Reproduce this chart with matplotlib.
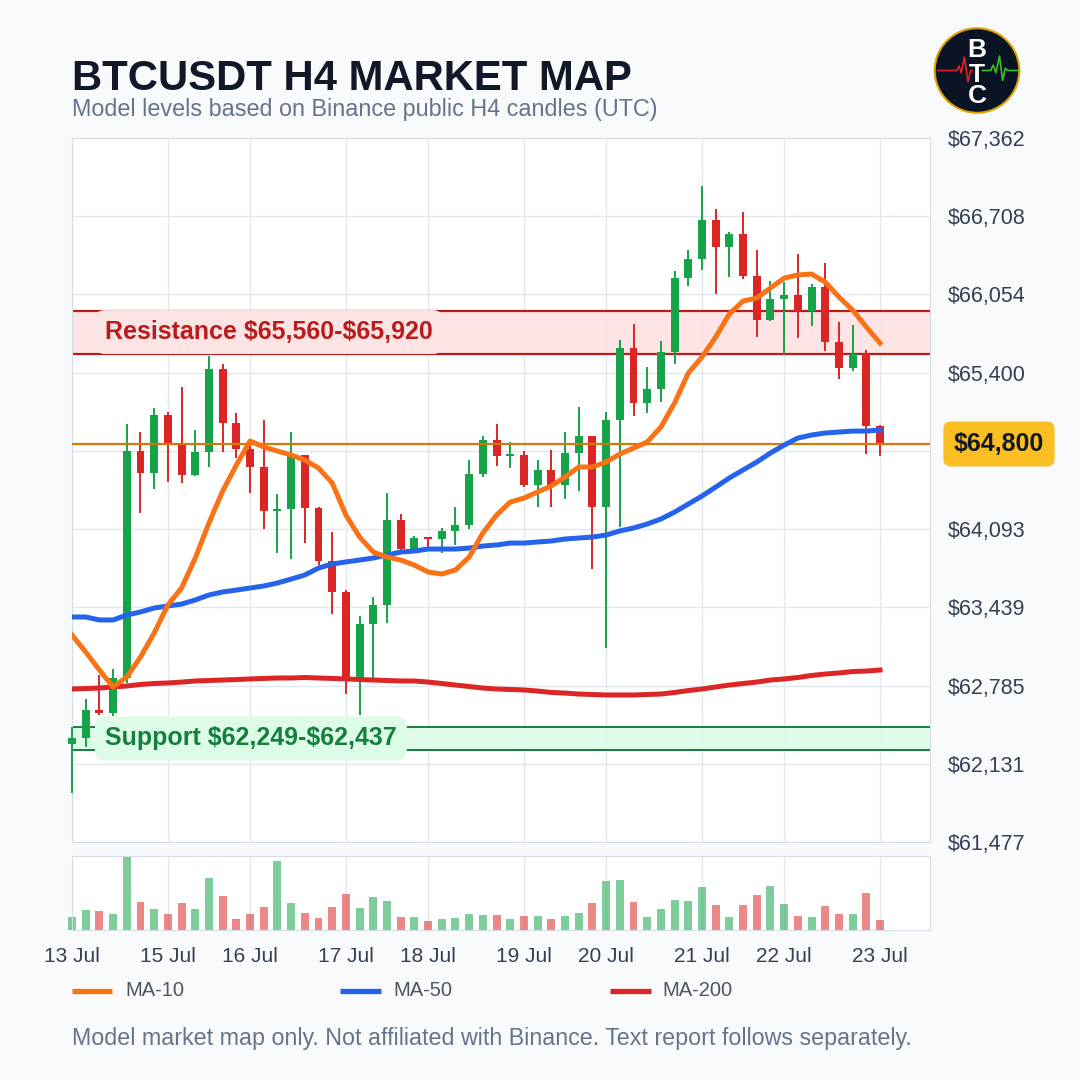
import numpy as np
import matplotlib
matplotlib.use("Agg")
import matplotlib.pyplot as plt
from matplotlib.patches import Circle
from matplotlib.lines import Line2D

plt.rcParams['font.family'] = ['Liberation Sans', 'DejaVu Sans']

# ---------------- Daten (H4-Kerzen) ----------------
opens = [62296, 62346, 62580, 62555, 62848, 64745, 64562, 65046, 64796, 64545,
         64737, 65431, 64979, 64762, 64612, 64244, 64260, 64712, 64269, 63826,
         63567, 62848, 63299, 63458, 64169, 63926, 64018, 64010, 64077, 64127,
         64553, 64837, 64704, 64712, 64461, 64587, 64461, 64729, 64871, 64277,
         65005, 65606, 65147, 65264, 65573, 66191, 66350, 66676, 66451, 66559,
         66208, 65840, 66016, 66049, 65916, 66116, 65656, 65439, 65556, 64954]
closes = [62346, 62580, 62555, 62848, 64745, 64562, 65046, 64796, 64545, 64737,
          65431, 64979, 64762, 64612, 64244, 64260, 64712, 64269, 63826, 63567,
          62848, 63299, 63458, 64169, 63926, 64018, 64010, 64077, 64127, 64553,
          64837, 64704, 64712, 64461, 64587, 64461, 64729, 64871, 64277, 65005,
          65606, 65147, 65264, 65573, 66191, 66350, 66676, 66451, 66559, 66208,
          65840, 66016, 66049, 65916, 66116, 65656, 65439, 65556, 64954, 64800]
highs = [62438, 62672, 62873, 62923, 64971, 64904, 65105, 65071, 65280, 64921,
         65540, 65473, 65063, 64837, 65005, 64386, 64904, 64715, 64277, 64068,
         63583, 63366, 63525, 64394, 64219, 64035, 64026, 64102, 64277, 64670,
         64871, 64971, 64821, 64745, 64670, 64754, 64904, 65113, 64871, 65071,
         65673, 65807, 65448, 65665, 66250, 66426, 66961, 66768, 66576, 66743,
         66426, 66166, 66158, 66392, 66141, 66317, 65824, 65799, 65590, 64963]
lows = [61887, 62271, 62539, 62530, 62806, 64227, 64428, 64486, 64478, 64540,
        64612, 64737, 64687, 64394, 64093, 63893, 63843, 63976, 63792, 63383,
        62714, 62539, 62831, 63308, 63920, 63920, 63943, 63893, 63960, 64093,
        64528, 64620, 64603, 64444, 64277, 64277, 64344, 64411, 63759, 63099,
        64110, 65038, 65063, 65155, 65473, 66125, 66258, 66058, 66200, 66183,
        65698, 65835, 65556, 65690, 65790, 65581, 65347, 65414, 64720, 64704]
volumes = [1270, 1970, 1870, 1570, 7470, 2870, 2170, 1570, 2770, 2070,
           5270, 3470, 1070, 1570, 2370, 6970, 2770, 1670, 1170, 2370,
           3670, 2270, 3370, 2970, 1270, 1270, 870, 1070, 1170, 1570,
           1470, 1470, 1070, 1370, 1370, 1070, 1370, 1670, 2770, 4970,
           5070, 2870, 1270, 2070, 3070, 2970, 4370, 2570, 1270, 2570,
           3570, 4470, 2670, 1370, 1270, 2470, 1570, 1570, 3770, 970]

ma10 = [63207, 63065, 62915, 62773, 62856, 63023, 63224, 63458, 63600, 63851,
        64144, 64411, 64628, 64829, 64779, 64745, 64712, 64670, 64603, 64478,
        64210, 64026, 63901, 63859, 63834, 63792, 63734, 63717, 63751, 63859,
        64060, 64210, 64319, 64352, 64403, 64453, 64528, 64612, 64612, 64653,
        64720, 64770, 64821, 64946, 65147, 65397, 65531, 65698, 65891, 65999,
        66024, 66108, 66191, 66217, 66225, 66158, 66033, 65924, 65782, 65648]
ma50 = [63358, 63358, 63333, 63333, 63374, 63400, 63433, 63450, 63466, 63500,
        63542, 63567, 63583, 63600, 63617, 63642, 63675, 63709, 63767, 63801,
        63818, 63834, 63851, 63876, 63901, 63909, 63926, 63926, 63926, 63934,
        63951, 63960, 63976, 63976, 63985, 63993, 64010, 64018, 64026, 64043,
        64077, 64102, 64135, 64177, 64235, 64302, 64369, 64444, 64520, 64587,
        64653, 64729, 64795, 64854, 64879, 64896, 64904, 64912, 64912, 64921]
ma200 = [62756, 62760, 62764, 62773, 62781, 62794, 62802, 62806, 62814, 62823,
         62827, 62831, 62835, 62840, 62844, 62848, 62848, 62852, 62848, 62844,
         62840, 62835, 62831, 62827, 62823, 62823, 62814, 62802, 62789, 62777,
         62764, 62756, 62752, 62748, 62739, 62727, 62722, 62714, 62710, 62706,
         62706, 62706, 62710, 62714, 62727, 62743, 62756, 62773, 62789, 62802,
         62814, 62831, 62840, 62852, 62869, 62881, 62890, 62902, 62906, 62915]

tick_idx = [0, 7, 13, 20, 26, 33, 39, 46, 52, 59]
tick_labels = ['13 Jul', '15 Jul', '16 Jul', '17 Jul', '18 Jul',
               '19 Jul', '20 Jul', '21 Jul', '22 Jul', '23 Jul']
price_ticks = [61477, 62131, 62785, 63439, 64093, 64747, 65400, 66054, 66708, 67362]
# das Label bei 64,747 liegt im Original unter dem Kurs-Badge
price_labels = ['$61,477', '$62,131', '$62,785', '$63,439', '$64,093', '',
                '$65,400', '$66,054', '$66,708', '$67,362']

resistance = (65560, 65920)
support = (62249, 62437)
last_price = 64800

# Farben
GREEN = '#16a34a'
RED = '#dc2626'
GRID = '#e2e8f0'
SPINE = '#d5dde8'

W = 1080.0


def box(l, t, r, b):
    # Pixelkoordinaten -> Figure-Anteile
    return [l / W, 1 - b / W, (r - l) / W, (b - t) / W]


fig = plt.figure(figsize=(10.8, 10.8), dpi=100)
fig.patch.set_facecolor('#f8fafc')

ax = fig.add_axes(box(72, 138, 930, 842))
axv = fig.add_axes(box(72, 856, 930, 930), sharex=ax)

x = np.arange(len(closes))
o = np.array(opens)
c = np.array(closes)
cols = [GREEN if cc >= oo else RED for oo, cc in zip(opens, closes)]

# ---------------- Preis-Panel ----------------
ax.set_facecolor('white')
ax.set_xlim(0, 62.65)
ax.set_ylim(price_ticks[0], price_ticks[-1])
ax.set_yticks(price_ticks)
ax.set_yticklabels([s.replace('$', '\\$') for s in price_labels])
ax.set_xticks(tick_idx)
ax.yaxis.tick_right()
ax.tick_params(axis='y', length=0, pad=13, labelsize=15.5, labelcolor='#334155')
ax.tick_params(axis='x', length=0, labelbottom=False)
ax.grid(color=GRID, lw=1, zorder=0)
ax.set_axisbelow(True)
for s in ax.spines.values():
    s.set_color(SPINE)

# Zonen
ax.axhspan(resistance[0], resistance[1], color='#fee2e2', alpha=0.9, lw=0, zorder=1)
for lvl in resistance:
    ax.axhline(lvl, color='#b91c1c', lw=1.6, zorder=1.5)
ax.axhspan(support[0], support[1], color='#dcfce7', alpha=0.9, lw=0, zorder=1)
for lvl in support:
    ax.axhline(lvl, color='#15803d', lw=1.4, zorder=1.5)

# Kerzen
body_lo = np.minimum(o, c)
body_h = np.maximum(np.abs(c - o), 15)
ax.vlines(x, lows, highs, colors=cols, lw=1.4, zorder=3, clip_on=False)
ax.bar(x, body_h, bottom=body_lo, width=0.58, color=cols, zorder=3.1, clip_on=False)

# aktueller Kurs
ax.axhline(last_price, color='#d97706', lw=1.6, zorder=3.5)

# gleitende Durchschnitte
ax.plot(x, ma200, color='#dc2626', lw=3.6, zorder=4)
ax.plot(x, ma50, color='#2563eb', lw=3.6, zorder=4.1)
ax.plot(x, ma10, color='#f97316', lw=3.6, zorder=4.2)

ax.text(2.41, sum(resistance) / 2, 'Resistance \\$65,560-\\$65,920', fontsize=18,
        weight='bold', color='#b91c1c', va='center', ha='left', zorder=6,
        bbox=dict(boxstyle='round,pad=0.4,rounding_size=0.4', fc='#fde4e4', ec='none'))
ax.text(2.41, sum(support) / 2, 'Support \\$62,249-\\$62,437', fontsize=18,
        weight='bold', color='#15803d', va='center', ha='left', zorder=6,
        bbox=dict(boxstyle='round,pad=0.4,rounding_size=0.4', fc='#dcfce7', ec='none'))

# ---------------- Volumen-Panel ----------------
axv.set_facecolor('white')
axv.bar(x, volumes, width=0.58, color=cols, alpha=0.55, zorder=2, clip_on=False)
axv.set_ylim(0, max(volumes))
axv.set_yticks([])
axv.set_xticks(tick_idx)
axv.set_xticklabels(tick_labels)
axv.tick_params(axis='x', length=0, pad=12, labelsize=15, labelcolor='#334155')
axv.grid(axis='x', color=GRID, lw=1, zorder=0)
for s in axv.spines.values():
    s.set_color(SPINE)

# Kurs-Badge
fig.text(999 / W, 1 - 444 / W, '\\$64,800', ha='center', va='center', fontsize=18,
         weight='bold', color='#111827',
         bbox=dict(boxstyle='round,pad=0.42,rounding_size=0.3', fc='#fbbf24', ec='none'))

# Titel
fig.text(72 / W, 1 - 90 / W, 'BTCUSDT H4 MARKET MAP', fontsize=30.2, weight='bold',
         color='#111827', va='baseline')
fig.text(72 / W, 1 - 116 / W, 'Model levels based on Binance public H4 candles (UTC)',
         fontsize=16.8, color='#64748b', va='baseline')

# Legende
for x0, x1, tx, col, lab in [(72, 112, 125, '#f97316', 'MA-10'),
                             (340, 381, 393, '#2563eb', 'MA-50'),
                             (610, 651, 662, '#dc2626', 'MA-200')]:
    fig.add_artist(Line2D([x0 / W, x1 / W], [1 - 991 / W] * 2, color=col, lw=3.8,
                          solid_capstyle='butt'))
    fig.text(tx / W, 1 - 991 / W, lab, va='center', fontsize=14.5, color='#4b5563')

fig.text(72 / W, 1 - 1038 / W,
         'Model market map only. Not affiliated with Binance. Text report follows separately.',
         va='center', fontsize=16.75, color='#64748b')

# Logo
lax = fig.add_axes(box(932, 25.5, 1022, 115.5))
lax.set_xlim(-1, 1)
lax.set_ylim(-1, 1)
lax.set_aspect('equal')
lax.axis('off')
lax.add_patch(Circle((0, 0), 0.94, fc='#0b1424', ec='#e0a400', lw=1.5))
lax.plot([-0.87, -0.45, -0.4, -0.35, -0.28, -0.2, -0.14, -0.11],
         [0, 0, 0.1, -0.05, 0.3, -0.25, 0, 0], color='#e02020', lw=1.2)
lax.plot([0.13, 0.3, 0.36, 0.42, 0.5, 0.57, 0.63, 0.68, 0.91],
         [0, 0, 0.12, -0.05, 0.32, -0.22, 0.05, 0, 0], color='#3cc020', lw=1.2)
for ly, ch in [(0.30, 'B'), (-0.25, 'T'), (-0.73, 'C')]:
    lax.text(0, ly, ch, ha='center', va='baseline', fontsize=19, weight='bold',
             color='white')

fig.savefig('out.png', dpi=100, facecolor=fig.get_facecolor())
